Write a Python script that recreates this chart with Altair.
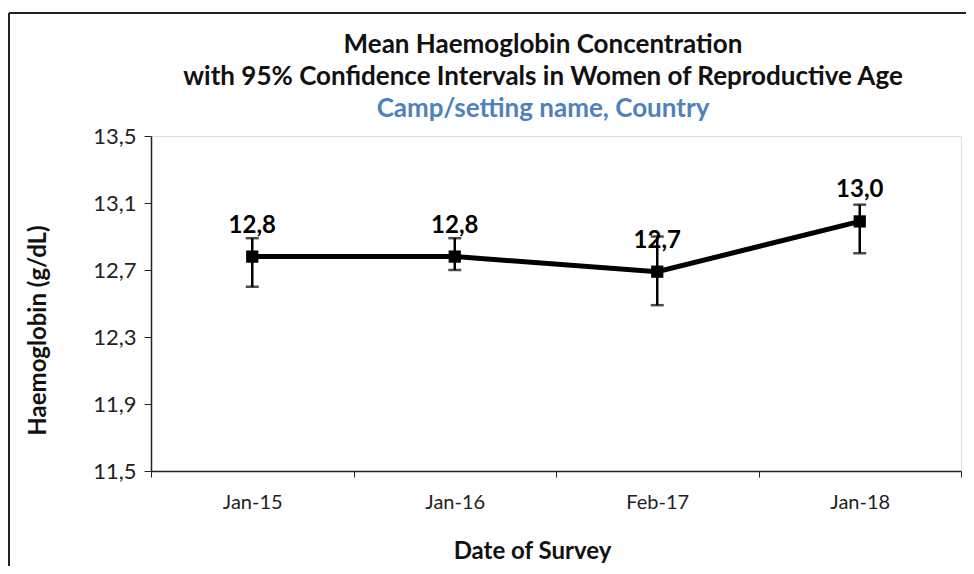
import altair as alt
import pandas as pd

dates = ["Jan-15", "Jan-16", "Feb-17", "Jan-18"]
mean_hb = [12.78, 12.78, 12.69, 12.99]
lower_ci = [12.60, 12.70, 12.49, 12.80]
upper_ci = [12.89, 12.89, 12.90, 13.09]
y_ticks = [11.5, 11.9, 12.3, 12.7, 13.1, 13.5]
title_lines = [
    "Mean Haemoglobin Concentration",
    "with 95% Confidence Intervals in Women of Reproductive Age",
]
subtitle_line = "Camp/setting name, Country"

df = pd.DataFrame({"date": dates, "mean": mean_hb, "lo": lower_ci, "hi": upper_ci})
one = pd.DataFrame({"k": [0]})

FONT = "Lato"

x_enc = alt.X(
    "date:N",
    sort=dates,
    scale=alt.Scale(type="band", paddingInner=0, paddingOuter=0),
    axis=alt.Axis(
        title="Date of Survey",
        labelAngle=0,
        tickBand="extent",
        tickSize=6,
        labelPadding=15,
        labelFontSize=20,
        labelColor="#222",
        labelFont=FONT,
        titleFont=FONT,
        titleFontSize=24,
        titleFontWeight="bold",
        titleColor="#111",
        titleX=381,
        titleY=87,
        titleBaseline="alphabetic",
        domainColor="#222",
        tickColor="#222",
        domainWidth=1.5,
    ),
)
y_scale = alt.Scale(domain=[11.5, 13.5], nice=False, zero=False)
y_axis = alt.Axis(
    title="Haemoglobin (g/dL)",
    values=y_ticks,
    labelExpr="replace(format(datum.value, '.1f'), '.', ',')",
    grid=False,
    tickSize=7,
    labelPadding=8,
    labelFontSize=22,
    labelColor="#222",
    labelFont=FONT,
    titleFont=FONT,
    titleFontSize=24,
    titleFontWeight="bold",
    titleColor="#111",
    titleX=-113,
    titleY=194,
    titleAngle=-90,
    titleAlign="center",
    titleBaseline="middle",
    domainColor="#222",
    tickColor="#222",
    domainWidth=1.5,
)

base = alt.Chart(df)

line = base.mark_line(color="black", strokeWidth=5).encode(
    x=x_enc, y=alt.Y("mean:Q", scale=y_scale, axis=y_axis)
)
err = base.mark_rule(color="black", strokeWidth=2.5).encode(
    x=alt.X("date:N", sort=dates), y="lo:Q", y2="hi:Q"
)
cap_lo = base.mark_tick(color="black", orient="horizontal", size=13, thickness=2.5).encode(
    x=alt.X("date:N", sort=dates), y="lo:Q"
)
cap_hi = base.mark_tick(color="black", orient="horizontal", size=13, thickness=2.5).encode(
    x=alt.X("date:N", sort=dates), y="hi:Q"
)
pts = base.mark_point(shape="square", filled=True, color="black", size=150, opacity=1).encode(
    x=alt.X("date:N", sort=dates), y="mean:Q"
)
labels = base.transform_calculate(
    lab="replace(format(datum.mean, '.1f'), '.', ',')"
).mark_text(font=FONT, fontSize=24, fontWeight="bold", color="black", dy=-24, baseline="alphabetic").encode(
    x=alt.X("date:N", sort=dates), y="mean:Q", text="lab:N"
)

title_style = dict(font=FONT, fontSize=26, fontWeight="bold", align="center", baseline="alphabetic")
t1 = alt.Chart(one).mark_text(color="#111", **title_style).encode(
    x=alt.value(392), y=alt.value(-83), text=alt.value(title_lines[0])
)
t2 = alt.Chart(one).mark_text(color="#111", **title_style).encode(
    x=alt.value(392), y=alt.value(-51), text=alt.value(title_lines[1])
)
t3 = alt.Chart(one).mark_text(color="#4F81BD", **title_style).encode(
    x=alt.value(392), y=alt.value(-19), text=alt.value(subtitle_line)
)

border_top = alt.Chart(one).mark_rule(color="#222", strokeWidth=2).encode(
    x=alt.value(-142), x2=alt.value(823), y=alt.value(-123)
)
border_left = alt.Chart(one).mark_rule(color="#222", strokeWidth=2).encode(
    x=alt.value(-142), y=alt.value(-123), y2=alt.value(440)
)

chart = alt.layer(line, err, cap_lo, cap_hi, pts, labels, t1, t2, t3, border_top, border_left).properties(
    width=810,
    height=335,
    autosize=alt.AutoSizeParams(type="none"),
    padding={"left": 143, "top": 128, "right": 5, "bottom": 95},
).configure_view(stroke=None).configure(background="white")

chart.save("out.html", embed_options={"renderer": "svg", "actions": False})
